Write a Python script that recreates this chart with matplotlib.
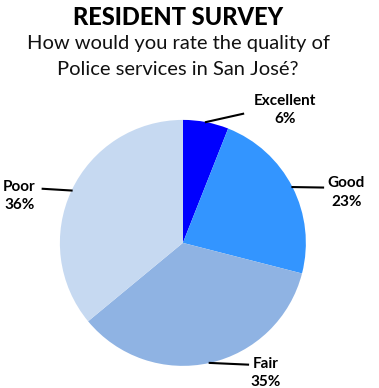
import numpy as np
import matplotlib
matplotlib.use("Agg")
import matplotlib.pyplot as plt

plt.rcParams['font.family'] = ['Lato', 'DejaVu Sans']

LABELS = ["Excellent", "Good", "Fair", "Poor"]
PCTS = [6, 23, 35, 36]
COLORS = ["#0000FF", "#3395FF", "#8FB3E3", "#C6D9F1"]

# label text placement (data units) and where each leader line stops
TEXT_POS = [(0.83, 1.08), (1.33, 0.41), (0.67, -1.06), (-1.33, 0.38)]
LINE_END = [(0.49, 1.05), (1.14, 0.45), (0.53, -0.99), (-1.14, 0.44)]

fig = plt.figure(figsize=(3.79, 3.88), dpi=100)
fig.text(0.47, 0.956, "RESIDENT SURVEY", ha="center", va="center",
         fontsize=17, fontweight="black")
fig.text(0.47, 0.889, "How would you rate the quality of", ha="center",
         va="center", fontsize=14.5, fontweight="normal", color="#111111")
fig.text(0.47, 0.820, "Police services in San José?", ha="center",
         va="center", fontsize=14.5, fontweight="normal", color="#111111")

ax = fig.add_axes([0.158, 0.057, 0.649, 0.634])
wedges, _ = ax.pie(PCTS, colors=COLORS, startangle=90, counterclock=False,
                   radius=1.0, wedgeprops=dict(linewidth=0))
ax.set_xlim(-1, 1)
ax.set_ylim(-1, 1)
ax.set_aspect("equal")
ax.axis("off")

for w, lab, pct, tp, le in zip(wedges, LABELS, PCTS, TEXT_POS, LINE_END):
    ang = np.deg2rad((w.theta1 + w.theta2) / 2)
    x0, y0 = np.cos(ang), np.sin(ang)
    ax.plot([x0, le[0]], [y0, le[1]], color="black", lw=1.5, clip_on=False)
    ax.text(tp[0], tp[1], f"{lab}\n{pct}%", ha="center", va="center",
            fontsize=11, fontweight="bold", linespacing=1.4, clip_on=False)

fig.savefig("out.png", dpi=100)
